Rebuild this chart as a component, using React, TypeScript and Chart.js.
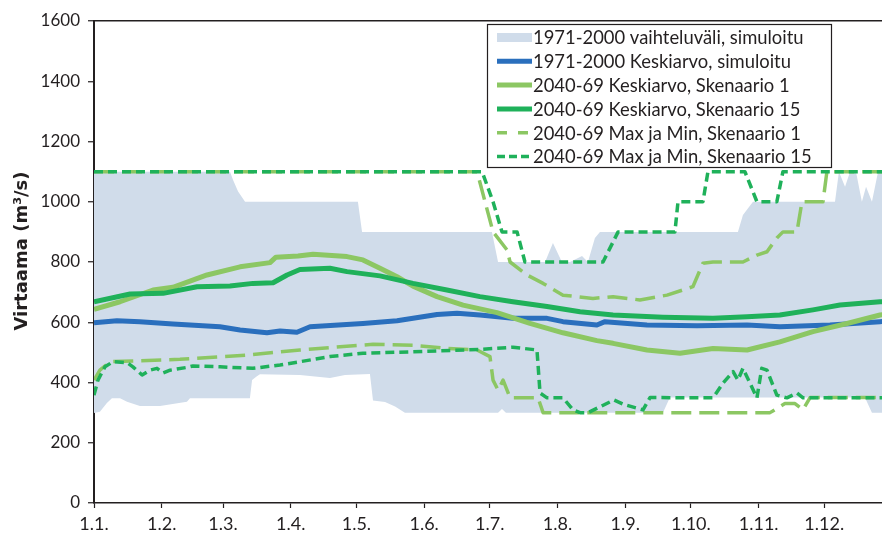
import React, { useEffect, useRef } from "react";
import { Chart, registerables } from "chart.js";

Chart.register(...registerables);

// ---------- data ----------
const monthStartDays = [0, 31, 59, 90, 120, 151, 181, 212, 243, 273, 304, 334];
const monthLabels = ["1.1.", "1.2.", "1.3.", "1.4.", "1.5.", "1.6.", "1.7.", "1.8.", "1.9.", "1.10.", "1.11.", "1.12."];
const yAxisTitle = "Virtaama (m³/s)";

const seriesLabels = [
  "1971-2000 vaihteluväli, simuloitu",
  "1971-2000 Keskiarvo, simuloitu",
  "2040-69 Keskiarvo, Skenaario 1",
  "2040-69 Keskiarvo, Skenaario 15",
  "2040-69 Max ja Min, Skenaario 1",
  "2040-69 Max ja Min, Skenaario 15",
];

const bandUpperDays = [0, 62.2, 63.6, 65.9, 69.1, 120.7, 122.6, 182.0, 184.8, 206.3, 209.9, 214.0, 217.7, 223.2, 225.9, 229.1, 231.4, 294.5, 296.8, 301.4, 338.9, 340.7, 343.5, 345.8, 348.5, 351.2, 353.1, 355.8, 358.6, 365];
const bandUpperValues = [1100, 1100, 1072, 1034, 1000, 1000, 900, 900, 800, 800, 863, 800, 800, 820, 800, 880, 900, 900, 956, 1000, 1000, 1100, 1050, 1100, 1100, 1000, 1050, 1000, 1100, 1100];

const bandLowerDays = [0, 2.7, 5.9, 8.2, 11.9, 15.1, 21.0, 30.2, 42.5, 43.9, 71.3, 72.3, 74.5, 75.9, 94.2, 107.9, 114.8, 126.2, 127.6, 133.1, 137.7, 142.2, 184.8, 186.6, 188.4, 260.2, 263.4, 352.6, 355.8, 365];
const bandLowerValues = [299, 303, 332, 348, 348, 336, 322, 322, 336, 348, 348, 408, 421, 427, 425, 415, 425, 428, 340, 335, 320, 300, 300, 312, 300, 300, 350, 350, 300, 300];

const meanObsDays = [0, 10.5, 21.0, 36.1, 57.6, 66.8, 79.1, 85.1, 92.8, 98.8, 123.0, 138.6, 156.9, 166.0, 176.5, 191.6, 207.2, 214.5, 230.0, 233.7, 252.9, 275.8, 298.7, 313.7, 336.6, 359.5, 365];
const meanObsValues = [598, 605, 602, 594, 585, 574, 565, 571, 567, 585, 596, 605, 626, 630, 624, 613, 613, 602, 591, 602, 591, 588, 591, 585, 591, 602, 604];

const meanS1Days = [0, 11.9, 27.0, 36.1, 51.7, 66.8, 80.5, 83.2, 93.3, 100.2, 115.7, 123.0, 130.8, 138.6, 145.9, 156.9, 168.8, 184.3, 199.4, 214.5, 230.0, 237.4, 252.9, 268.0, 283.1, 298.7, 313.7, 328.8, 344.4, 359.5, 365];
const meanS1Values = [643, 668, 707, 716, 757, 784, 798, 816, 820, 826, 818, 807, 779, 751, 720, 685, 657, 632, 596, 565, 539, 530, 508, 497, 513, 508, 535, 569, 596, 624, 628];

const meanS15Days = [0, 16.5, 31.6, 47.1, 62.2, 72.7, 81.9, 88.3, 94.2, 107.9, 115.7, 130.8, 145.9, 161.4, 176.5, 191.6, 207.2, 222.3, 237.4, 260.2, 283.1, 298.7, 313.7, 328.8, 341.2, 359.5, 365];
const meanS15Values = [668, 694, 696, 718, 720, 729, 731, 757, 775, 779, 768, 754, 729, 707, 685, 668, 652, 635, 624, 617, 613, 618, 624, 641, 657, 668, 670];

const maxS1Days = [0, 175.2, 182.5, 188.9, 190.3, 198.0, 205.4, 214.5, 228.2, 237.4, 249.7, 262.1, 273.9, 278.5, 283.1, 296.8, 303.2, 307.8, 312.3, 315.1, 321.5, 323.8, 333.4, 335.2, 365];
const maxS1Values = [1100, 1100, 900, 840, 800, 757, 729, 690, 679, 685, 674, 690, 718, 796, 800, 800, 823, 834, 880, 900, 900, 1000, 1000, 1100, 1100];

const minS1Days = [0, 2.7, 7.3, 39.3, 70.0, 94.2, 127.6, 145.9, 161.4, 175.2, 181.1, 182.5, 184.8, 187.1, 190.3, 203.1, 205.4, 309.2, 316.0, 320.6, 324.3, 327.5, 365];
const minS1Values = [408, 441, 469, 477, 491, 508, 527, 524, 513, 508, 486, 408, 375, 408, 349, 349, 300, 300, 330, 330, 310, 350, 350];

const maxS15Days = [0, 177.5, 182.5, 186.6, 193.5, 197.1, 232.8, 239.7, 265.7, 267.1, 278.5, 280.8, 297.7, 303.2, 312.3, 315.1, 365];
const maxS15Values = [1100, 1100, 1000, 900, 900, 800, 800, 900, 900, 1000, 1000, 1100, 1100, 1000, 1000, 1100, 1100];

const minS15Days = [0, 1.8, 5.0, 8.7, 15.1, 17.8, 22.0, 25.6, 28.8, 31.6, 34.8, 42.5, 45.3, 57.6, 72.7, 85.1, 94.2, 107.9, 123.0, 145.9, 176.5, 191.6, 202.6, 204.0, 207.2, 214.5, 219.1, 222.3, 226.0, 237.8, 242.4, 251.1, 254.3, 283.1, 287.7, 292.3, 294.5, 296.8, 300.0, 303.2, 305.4, 307.8, 312.3, 316.9, 321.5, 324.3, 365];
const minS15Values = [358, 408, 452, 469, 466, 452, 425, 441, 447, 432, 441, 450, 455, 452, 447, 458, 469, 486, 497, 502, 510, 517, 508, 365, 349, 349, 309, 300, 300, 342, 327, 309, 350, 349, 398, 436, 408, 447, 398, 349, 447, 441, 358, 349, 365, 349, 349];

// ---------- styles ----------
const TEXT = "#231f20";
const BAND = "#d0dcea";
const BLUE = "#2a6fbd";
const LIGHT_GREEN = "#8cc763";
const DARK_GREEN = "#1fb15a";
const DASH_S1 = [20, 8];
const DASH_S15 = [9, 5];

const pts = (xs: number[], ys: number[]) => xs.map((x, i) => ({ x, y: ys[i] }));

const overlayPlugin = {
  id: "overlay",
  afterDraw(chart: any) {
    const ctx = chart.ctx as CanvasRenderingContext2D;
    // y axis title
    ctx.save();
    ctx.translate(22.5, 251);
    ctx.rotate(-Math.PI / 2);
    ctx.fillStyle = TEXT;
    ctx.font = "bold 18px 'DejaVu Sans'";
    ctx.textAlign = "center";
    ctx.textBaseline = "middle";
    ctx.fillText(yAxisTitle, 0, 0);
    ctx.restore();

    // legend
    const bx = 487, by = 24, bw = 344, bh = 143;
    ctx.save();
    ctx.fillStyle = "#ffffff";
    ctx.fillRect(bx, by, bw, bh);
    ctx.strokeStyle = TEXT;
    ctx.lineWidth = 1.2;
    ctx.strokeRect(bx + 0.5, by + 0.5, bw, bh);
    const styles = [
      { kind: "box", color: BAND },
      { kind: "line", color: BLUE, width: 5, dash: [] as number[] },
      { kind: "line", color: LIGHT_GREEN, width: 5, dash: [] as number[] },
      { kind: "line", color: DARK_GREEN, width: 5, dash: [] as number[] },
      { kind: "line", color: LIGHT_GREEN, width: 3.5, dash: [10, 11] },
      { kind: "line", color: DARK_GREEN, width: 3.5, dash: [8, 4] },
    ];
    ctx.font = "18.4px Lato";
    ctx.textBaseline = "middle";
    ctx.textAlign = "left";
    seriesLabels.forEach((label, i) => {
      const cy = 37.5 + i * 23.8;
      const s = styles[i];
      if (s.kind === "box") {
        ctx.fillStyle = s.color;
        ctx.fillRect(497, cy - 4.5, 35, 9);
      } else {
        ctx.strokeStyle = s.color;
        ctx.lineWidth = s.width as number;
        ctx.setLineDash(s.dash as number[]);
        ctx.lineCap = "butt";
        ctx.beginPath();
        ctx.moveTo(497, cy);
        ctx.lineTo(532, cy);
        ctx.stroke();
        ctx.setLineDash([]);
      }
      ctx.fillStyle = TEXT;
      ctx.fillText(label, 533, cy + 1);
    });
    ctx.restore();
  },
};

export default function App() {
  const ref = useRef<HTMLCanvasElement | null>(null);
  useEffect(() => {
    if (!ref.current) return;
    const lineBase = { pointRadius: 0, tension: 0, fill: false, borderJoinStyle: "round" as const };
    const chart = new Chart(ref.current, {
      type: "line",
      data: {
        datasets: [
          { ...lineBase, label: seriesLabels[0], data: pts(bandUpperDays, bandUpperValues), borderWidth: 0, borderColor: "rgba(0,0,0,0)", backgroundColor: BAND, fill: "+1", order: 10 },
          { ...lineBase, label: seriesLabels[0] + " min", data: pts(bandLowerDays, bandLowerValues), borderWidth: 0, borderColor: "rgba(0,0,0,0)", order: 9 },
          { ...lineBase, label: seriesLabels[4], data: pts(maxS1Days, maxS1Values), borderColor: LIGHT_GREEN, borderWidth: 3.5, borderDash: DASH_S1, order: 6 },
          { ...lineBase, label: seriesLabels[4] + " min", data: pts(minS1Days, minS1Values), borderColor: LIGHT_GREEN, borderWidth: 3.5, borderDash: DASH_S1, order: 6 },
          { ...lineBase, label: seriesLabels[5], data: pts(maxS15Days, maxS15Values), borderColor: DARK_GREEN, borderWidth: 3.5, borderDash: DASH_S15, order: 5 },
          { ...lineBase, label: seriesLabels[5] + " min", data: pts(minS15Days, minS15Values), borderColor: DARK_GREEN, borderWidth: 3.5, borderDash: DASH_S15, order: 5 },
          { ...lineBase, label: seriesLabels[1], data: pts(meanObsDays, meanObsValues), borderColor: BLUE, borderWidth: 5, order: 3 },
          { ...lineBase, label: seriesLabels[2], data: pts(meanS1Days, meanS1Values), borderColor: LIGHT_GREEN, borderWidth: 5, order: 2 },
          { ...lineBase, label: seriesLabels[3], data: pts(meanS15Days, meanS15Values), borderColor: DARK_GREEN, borderWidth: 5, order: 1 },
        ],
      },
      options: {
        responsive: false,
        animation: false,
        devicePixelRatio: 1,
        layout: { padding: { top: 21, right: 0, left: 0, bottom: 0 } },
        plugins: { legend: { display: false }, tooltip: { enabled: false } },
        scales: {
          x: {
            type: "linear",
            min: 0,
            max: 360.4,
            afterBuildTicks: (scale: any) => {
              scale.ticks = monthStartDays.map((v) => ({ value: v }));
            },
            afterFit: (scale: any) => {
              scale.height = 34;
            },
            ticks: {
              autoSkip: false,
              maxRotation: 0,
              color: TEXT,
              font: { family: "Lato", size: 18 },
              padding: 5,
              callback: (v: any) => {
                const i = monthStartDays.indexOf(Number(v));
                return i >= 0 ? monthLabels[i] : "";
              },
            },
            grid: { drawOnChartArea: false, tickLength: 5, color: TEXT, tickColor: TEXT, tickWidth: 1.2 },
            border: { color: TEXT, width: 1.5 },
          },
          y: {
            min: 0,
            max: 1600,
            afterFit: (scale: any) => {
              scale.width = 94;
            },
            ticks: {
              stepSize: 200,
              color: TEXT,
              font: { family: "Lato", size: 17 },
              padding: 8,
              callback: (v: any) => String(v),
            },
            grid: {
              drawOnChartArea: true,
              tickLength: 6,
              tickColor: TEXT,
              tickWidth: 1.2,
              lineWidth: 1.5,
              color: (c: any) => (c.tick && c.tick.value === 1600 ? TEXT : "rgba(0,0,0,0)"),
            },
            border: { color: TEXT, width: 2 },
          },
        },
      },
      plugins: [overlayPlugin],
    });
    return () => chart.destroy();
  }, []);
  return (
    <canvas
      ref={ref}
      width={882}
      height={537}
      style={{ position: "fixed", left: 0, top: 0, display: "block" }}
    />
  );
}
